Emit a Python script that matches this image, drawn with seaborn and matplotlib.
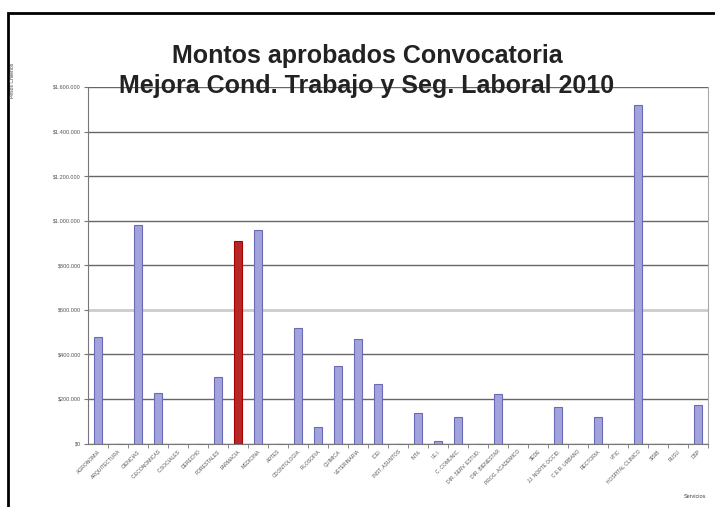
import matplotlib
matplotlib.use('Agg')
import matplotlib.pyplot as plt
import seaborn as sns
import pandas as pd
from matplotlib.ticker import FuncFormatter
from matplotlib.patches import Rectangle

# datos (montos en pesos)
servicios = ['AGRONOMIA', 'ARQUITECTURA', 'CIENCIAS', 'C.ECONOMICAS', 'C.SOCIALES',
             'DERECHO', 'FORESTALES', 'FARMACIA', 'MEDICINA', 'ARTES',
             'ODONTOLOGIA', 'FILOSOFIA', 'QUIMICA', 'VETERINARIA', 'ICEI',
             'INST. ASUNTOS', 'INTA', 'I.E.I.', 'C. COMUNIC.', 'DIR. SERV. ESTUD.',
             'DIR. BIENESTAR', 'PROG. ACADEMICO', 'SEDE', 'JJ. NORTE OCCID.', 'C.E.R. URBANO',
             'RECTORIA', 'VTIC', 'HOSPITAL CLINICO', 'SISIB', 'RUSU', 'DSP']
montos = [480000, 0, 980000, 225000, 0,
          0, 300000, 908000, 957000, 0,
          517000, 76000, 346000, 467000, 265000,
          0, 135000, 13000, 121000, 0,
          220000, 0, 0, 166000, 0,
          121000, 0, 1520000, 0, 0, 175000]
destacado = 'FARMACIA'

df = pd.DataFrame({'Servicios': servicios, 'Monto': montos})
colores = {s: ('#cc1111' if s == destacado else '#9999e6') for s in servicios}

plt.rcParams['font.family'] = ['Liberation Sans', 'DejaVu Sans']
fig = plt.figure(figsize=(7.15, 5.07), dpi=100)
ax = fig.add_axes([88 / 715, 1 - 443.5 / 507, 620 / 715, 356.5 / 507])

sns.barplot(data=df, x='Servicios', y='Monto', hue='Servicios', palette=colores,
            legend=False, width=0.4, edgecolor='#6a6ab8', linewidth=0.8, ax=ax)
ax.patches[servicios.index(destacado)].set_edgecolor('#aa0000')

ax.set_ylim(0, 1600000)
ax.set_xlim(-0.5, len(servicios) - 0.5)
ax.set_yticks(range(0, 1600001, 200000))
ax.yaxis.set_major_formatter(FuncFormatter(
    lambda v, p: '$0' if v == 0 else ('$' + f'{v:,.0f}'.replace(',', '.'))))
ax.tick_params(axis='y', labelsize=4, labelcolor='#555555', length=3, color='#777777', pad=2)
ax.set_xticks(range(len(servicios)))
ax.set_xticklabels(servicios, rotation=45, ha='right', rotation_mode='anchor',
                   fontsize=3.6, color='#555555')
ax.tick_params(axis='x', length=0, pad=4)
ax.set_xticks([i + 0.5 for i in range(len(servicios))], minor=True)
ax.tick_params(axis='x', which='minor', length=3, color='#777777')

ax.set_axisbelow(True)
ax.yaxis.grid(True, color='#666666', linewidth=1)
ax.get_ygridlines()[3].set_color('#cccccc')
ax.get_ygridlines()[3].set_linewidth(2)
ax.spines['top'].set_visible(False)
ax.spines['left'].set_color('#777777')
ax.spines['bottom'].set_color('#777777')
ax.spines['right'].set_color('#aaaaaa')
ax.set_xlabel('')
ax.set_ylabel('')

fig.text(367 / 715, 1 - 56 / 507, 'Montos aprobados Convocatoria', ha='center', va='center',
         fontsize=18, fontweight='bold', color='#222222')
fig.text(367 / 715, 1 - 86 / 507, 'Mejora Cond. Trabajo y Seg. Laboral 2010', ha='center',
         va='center', fontsize=18, fontweight='bold', color='#222222')
fig.text(12 / 715, 1 - 80 / 507, 'Pesos Chilenos', rotation=90, ha='center', va='center',
         fontsize=3.6, color='#444444')
fig.text(706 / 715, 1 - 497 / 507, 'Servicios', ha='right', va='center',
         fontsize=4, color='#444444')

fig.patches.append(Rectangle((8 / 715, -0.1), 1.2, 1 - 13 / 507 + 0.1, transform=fig.transFigure,
                             fill=False, edgecolor='black', linewidth=2))

fig.savefig('out.png', dpi=100)
